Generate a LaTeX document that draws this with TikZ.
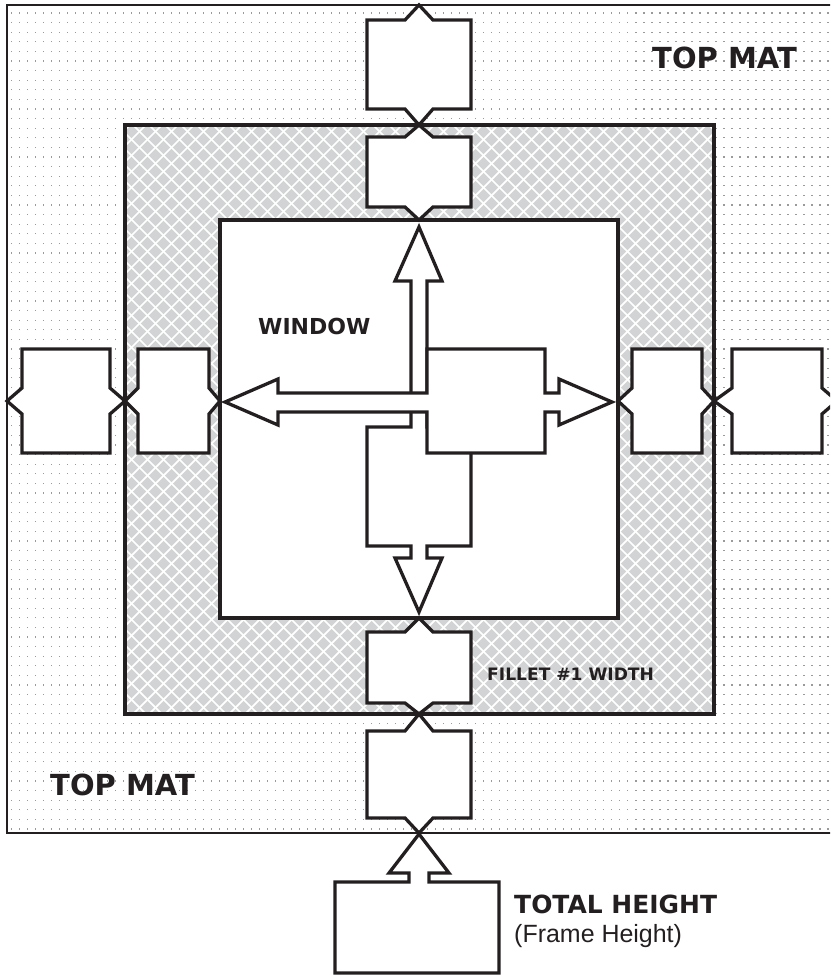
\documentclass[tikz,border=0pt]{standalone}
\usepackage{fontspec}
\setmainfont{Liberation Sans}
\newfontfamily\wideface{DejaVu Sans}
\definecolor{hatchgray}{HTML}{D1D3D4}
\definecolor{dotgray}{HTML}{9A9A9A}
\definecolor{inkblack}{HTML}{231F20}

\begin{document}
\begin{tikzpicture}[
  x=0.03cm, y=-0.03cm,
  edge/.style={draw=inkblack, line width=2.8pt},
  marker/.style={draw=inkblack, fill=white, line width=2.8pt, line join=miter},
  lbl/.style={inner sep=0pt, anchor=base west, text=inkblack},
  boldlbl/.style={lbl, font=\wideface\bfseries\fontsize{#1}{#1}\selectfont}
]
  \useasboundingbox (0,0) rectangle (830,976);
  \clip (0,0) rectangle (830,976);

  % top mat, dot screen
  \fill[white] (7,5) rectangle (833,833);
  \begin{scope}
    \clip (7,5) rectangle (833,833);
    \foreach \r in {0,...,86}
      \draw[dotgray, line width=1.15pt, dash pattern=on 1.15pt off 5.68pt]
        (11,{13+9.6*\r}) -- (835,{13+9.6*\r});
  \end{scope}
  \draw[edge, line width=2.4pt] (7,5) rectangle (833,833);

  % fillet, crosshatch
  \fill[hatchgray] (125,125) rectangle (714,714);
  \begin{scope}
    \clip (125,125) rectangle (714,714);
    \foreach \c in {-600,-584,...,600} {
      \draw[white, line width=1.5pt] ({125+\c},125) -- ++(589,589);
      \draw[white, line width=1.5pt] ({125+\c},714) -- ++(589,-589);
    }
  \end{scope}
  \draw[edge] (125,125) rectangle (714,714);

  % window
  \draw[edge, fill=white] (220,220) rectangle (618,618);

  % vertical dimension markers
  \foreach \pt/\bt/\bb/\pb in {5/20/109/125, 125/137/207/220, 618/632/703/714, 714/731/818/833}
    \draw[marker] (367,\bt) -- (405,\bt) -- (419,\pt) -- (433,\bt) -- (471,\bt)
      -- (471,\bb) -- (433,\bb) -- (419,\pb) -- (405,\bb) -- (367,\bb) -- cycle;

  % horizontal dimension markers
  \foreach \pl/\bl/\br/\pr in {7/22/110/125, 125/138/209/220, 618/632/702/714, 714/732/822/837}
    \draw[marker] (\bl,349) -- (\br,349) -- (\br,388) -- (\pr,401) -- (\br,414)
      -- (\br,453) -- (\bl,453) -- (\bl,414) -- (\pl,401) -- (\bl,388) -- cycle;

  % window arrows
  \draw[marker] (419,227) -- (442,281) -- (427,281) -- (427,427) -- (471,427)
    -- (471,546) -- (427,546) -- (427,558) -- (442,558) -- (419,612) -- (395,558)
    -- (411,558) -- (411,546) -- (367,546) -- (367,427) -- (411,427) -- (411,281)
    -- (395,281) -- cycle;
  \draw[marker] (225,402) -- (278,379) -- (278,393) -- (427,393) -- (427,349)
    -- (545,349) -- (545,393) -- (559,393) -- (559,379) -- (612,402) -- (559,425)
    -- (559,412) -- (545,412) -- (545,453) -- (427,453) -- (427,412) -- (278,412)
    -- (278,425) -- cycle;

  % total height
  \draw[marker] (335,882) -- (409,882) -- (409,873) -- (389,873) -- (419,834)
    -- (449,873) -- (429,873) -- (429,882) -- (499,882) -- (499,973) -- (335,973) -- cycle;

  \node[boldlbl=18.8] (window) at (258,334) {WINDOW};
  \node[boldlbl=24.75] (topmat) at (652,68) {TOP MAT};
  \node[boldlbl=24.75] (bottommat) at (50,795) {TOP MAT};
  \node[boldlbl=14.6] (fillet) at (487,680) {FILLET \#1 WIDTH};
  \node[boldlbl=21.3] (total) at (514,913) {TOTAL HEIGHT};
  \node[lbl, font=\fontsize{21.3}{22}\selectfont] (frame) at (514,942) {(Frame Height)};
\end{tikzpicture}
\end{document}
